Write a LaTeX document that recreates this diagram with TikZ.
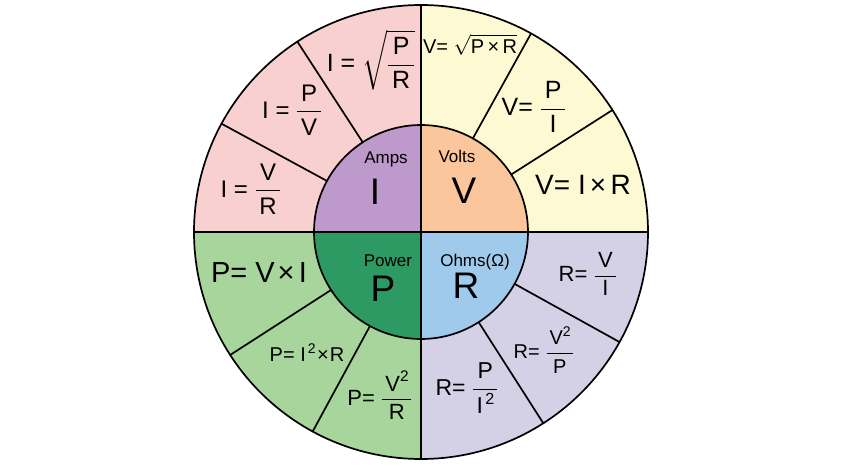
\documentclass[tikz,border=0pt]{standalone}
\usepackage{amsmath}
\usepackage{fontspec}
\setmainfont{Liberation Sans}
\definecolor{pinkc}{HTML}{F8D0D0}
\definecolor{yellc}{HTML}{FDFAD3}
\definecolor{greenc}{HTML}{A8D59B}
\definecolor{lavc}{HTML}{D4D1E7}
\definecolor{purpc}{HTML}{BE99CB}
\definecolor{orangec}{HTML}{FBC69B}
\definecolor{dgreenc}{HTML}{2E9A63}
\definecolor{bluec}{HTML}{9FCAEC}
\newcommand\fsz[1]{\fontsize{#1}{#1}\selectfont}
\newcommand\fr[2]{\frac{\hspace{0.15em}\text{#1}\hspace{0.15em}}{\hspace{0.15em}\text{#2}\hspace{0.15em}}}
\begin{document}
\begin{tikzpicture}[x=1pt,y=1pt,line width=1.7pt,
  fm/.style={inner sep=0pt,anchor=center},
  big/.style={inner sep=0pt,anchor=base,font=\fsz{37}},
  lab/.style={inner sep=0pt,anchor=base,font=\fsz{17}}]
\useasboundingbox (-421,-234) rectangle (429,232);
\def\Ro{227}\def\ri{107}
% outer ring quadrants
\fill[pinkc]  (0,0) -- (90:\Ro)  arc[start angle=90,end angle=180,radius=\Ro] -- cycle;
\fill[yellc]  (0,0) -- (0:\Ro)   arc[start angle=0,end angle=90,radius=\Ro] -- cycle;
\fill[greenc] (0,0) -- (180:\Ro) arc[start angle=180,end angle=270,radius=\Ro] -- cycle;
\fill[lavc]   (0,0) -- (270:\Ro) arc[start angle=270,end angle=360,radius=\Ro] -- cycle;
% inner quadrants
\fill[purpc]   (0,0) -- (90:\ri)  arc[start angle=90,end angle=180,radius=\ri] -- cycle;
\fill[orangec] (0,0) -- (0:\ri)   arc[start angle=0,end angle=90,radius=\ri] -- cycle;
\fill[dgreenc] (0,0) -- (180:\ri) arc[start angle=180,end angle=270,radius=\ri] -- cycle;
\fill[bluec]   (0,0) -- (270:\ri) arc[start angle=270,end angle=360,radius=\ri] -- cycle;
% lines
\foreach \a in {123,151.5,32.5,61,212.8,241.5,-29,-57.4}
  \draw (\a:\ri) -- (\a:\Ro);
\draw (0,0) circle[radius=\Ro];
\draw (0,0) circle[radius=\ri];
\draw (-\Ro,0) -- (\Ro,0);
\draw (0,-\Ro) -- (0,\Ro);
% inner labels
\node[lab] (amps)  at (-35,69) {Amps};
\node[big] (bigI)  at (-46,28) {I};
\node[lab] (volts) at (36,70) {Volts};
\node[big] (bigV)  at (43,29) {V};
\node[lab] (power) at (-33,-34) {Power};
\node[big] (bigP)  at (-38,-69) {P};
\node[lab] (ohms)  at (54,-34) {Ohms(Ω)};
\node[big] (bigR)  at (45,-66) {R};
% formulas
\node[fm,font=\fsz{25}] (f1) at (-50,172) {$\displaystyle\text{I = }\sqrt{\fr{P}{R}}$};
\node[fm,font=\fsz{24}] (f2) at (-129,122) {$\displaystyle\text{I = }\fr{P}{V}$};
\node[fm,font=\fsz{24}] (f3) at (-170,43) {$\displaystyle\text{I = }\fr{V}{R}$};
\node[fm,font=\fsz{20}] (f4) at (49,187) {$\text{V= }\sqrt{\text{P\,×\,R}}$};
\node[fm,font=\fsz{25}] (f5) at (113,125) {$\displaystyle\text{V= }\fr{P}{I}$};
\node[fm,font=\fsz{28}] (f6) at (162,47) {V=~I\hspace{0.15em}×\hspace{0.15em}R};
\node[fm,font=\fsz{29}] (f7) at (-162,-41) {P=~V\hspace{0.1em}×\hspace{0.15em}I};
\node[fm,font=\fsz{20}] (f8) at (-114,-121) {$\text{P= I}^{\hspace{0.1em}\text{2}}\text{\hspace{0.05em}×\hspace{0.05em}R}$};
\node[fm,font=\fsz{22}] (f9) at (-41,-163) {$\displaystyle\text{P= }\frac{\hspace{0.15em}\text{V}^{\text{2}}\hspace{0.1em}}{\hspace{0.15em}\text{R}\hspace{0.15em}}$};
\node[fm,font=\fsz{22}] (f10) at (167,-42) {$\displaystyle\text{R= }\fr{V}{I}$};
\node[fm,font=\fsz{20}] (f11) at (123,-118) {$\displaystyle\text{R= }\frac{\hspace{0.15em}\text{V}^{\text{2}}\hspace{0.1em}}{\hspace{0.15em}\text{P}\hspace{0.15em}}$};
\node[fm,font=\fsz{23}] (f12) at (46,-156) {$\displaystyle\text{R= }\frac{\hspace{0.15em}\text{P}\hspace{0.15em}}{\hspace{0.15em}\text{I}^{\hspace{0.1em}\text{2}}\hspace{0.1em}}$};
\end{tikzpicture}
\end{document}
